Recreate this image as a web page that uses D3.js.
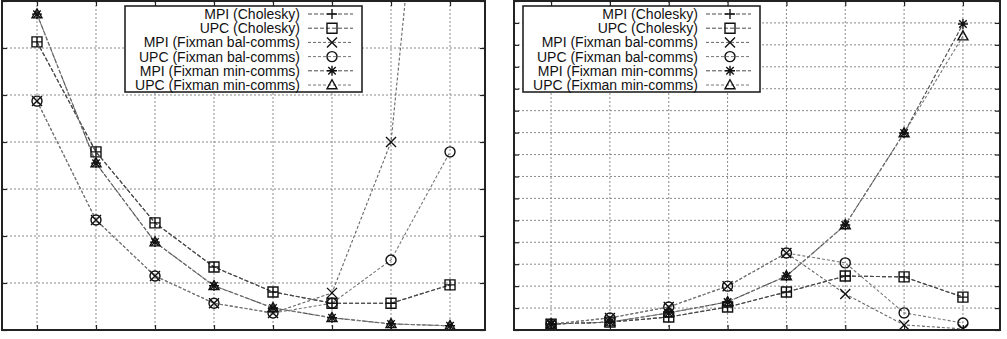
<!DOCTYPE html>
<html>
<head>
<meta charset="utf-8">
<script src="https://cdn.jsdelivr.net/npm/d3@7"></script>
<style>
  html, body { margin: 0; padding: 0; background: #fff; }
  svg { display: block; }
  text { font-family: "Liberation Sans", Arial, Helvetica, sans-serif; }
</style>
</head>
<body>
<svg id="chart" width="1007" height="339"></svg>
<script>
// ---------- data ----------
const categories = ["1", "2", "4", "8", "16", "32", "64", "128"];
const seriesNames = ["MPI (Cholesky)", "UPC (Cholesky)", "MPI (Fixman bal-comms)",
                     "UPC (Fixman bal-comms)", "MPI (Fixman min-comms)", "UPC (Fixman min-comms)"];
const seriesSymbols = ["plus", "square", "cross", "circle", "star", "triangle"];

// left panel
const mpiCholeskyA = [6.13, 3.79, 2.28, 1.34, 0.81, 0.57, 0.57, 0.96];
const upcCholeskyA = [6.13, 3.79, 2.28, 1.34, 0.81, 0.57, 0.57, 0.96];
const mpiBalA      = [4.87, 2.34, 1.15, 0.57, 0.36, 0.79, 4.00, 16.5];
const upcBalA      = [4.87, 2.34, 1.15, 0.57, 0.36, 0.57, 1.49, 3.79];
const mpiMinA      = [6.72, 3.55, 1.87, 0.94, 0.47, 0.26, 0.13, 0.09];
const upcMinA      = [6.72, 3.55, 1.87, 0.94, 0.47, 0.26, 0.13, 0.09];
const yTicksA      = [0, 1, 2, 3, 4, 5, 6, 7];

// right panel
const mpiCholeskyB = [0.27, 0.36, 0.59, 1.05, 1.73, 2.46, 2.42, 1.50];
const upcCholeskyB = [0.27, 0.36, 0.59, 1.05, 1.73, 2.46, 2.42, 1.50];
const mpiBalB      = [0.27, 0.55, 1.05, 2.00, 3.51, 1.64, 0.23, 0.05];
const upcBalB      = [0.27, 0.55, 1.05, 2.00, 3.51, 3.06, 0.78, 0.32];
const mpiMinB      = [0.27, 0.36, 0.78, 1.28, 2.46, 4.79, 8.98, 13.95];
const upcMinB      = [0.27, 0.36, 0.78, 1.28, 2.46, 4.79, 8.98, 13.40];
const yTicksB      = [0, 1, 2, 3, 4, 5, 6, 7, 8, 9, 10, 11, 12, 13, 14, 15];

// ---------- drawing ----------
const svg = d3.select("#chart");

const symbolPath = {
  plus: s => `M${-s},0H${s}M0,${-s}V${s}`,
  cross: s => `M${-s},${-s}L${s},${s}M${-s},${s}L${s},${-s}`,
  star: s => `M${-s},0H${s}M0,${-s}V${s}M${-s*0.75},${-s*0.75}L${s*0.75},${s*0.75}M${-s*0.75},${s*0.75}L${s*0.75},${-s*0.75}`,
  square: s => `M${-s},${-s}H${s}V${s}H${-s}Z`,
  circle: s => `M${s},0A${s},${s} 0 1,1 ${-s},0A${s},${s} 0 1,1 ${s},0Z`,
  triangle: s => `M0,${-s*1.05}L${s},${s*0.75}L${-s},${s*0.75}Z`
};
const symSize = 5;

function drawPanel(id, x0, x1, y0, y1, pad, yMax, yTicks, seriesData, legend) {
  const g = svg.append("g");
  const x = d3.scalePoint().domain(categories).range([x0, x1]).padding(pad);
  const y = d3.scaleLinear().domain([0, yMax]).range([y1, y0]);

  // grid
  const grid = g.append("g").attr("stroke", "#8a8a8a").attr("stroke-width", 1)
    .attr("stroke-dasharray", "2,2");
  grid.selectAll("line.v").data(categories).join("line")
    .attr("x1", d => x(d)).attr("x2", d => x(d))
    .attr("y1", y0).attr("y2", y1);
  grid.selectAll("line.h").data(yTicks.slice(1, -1)).join("line")
    .attr("x1", x0).attr("x2", x1)
    .attr("y1", d => y(d)).attr("y2", d => y(d));

  // axes ticks (inward, no labels)
  const tk = 5;
  const axB = g.append("g").attr("transform", `translate(0,${y1})`)
    .call(d3.axisBottom(x).tickSize(-tk).tickFormat(""));
  const axT = g.append("g").attr("transform", `translate(0,${y0})`)
    .call(d3.axisTop(x).tickSize(-tk).tickFormat(""));
  const axL = g.append("g").attr("transform", `translate(${x0},0)`)
    .call(d3.axisLeft(y).tickValues(yTicks).tickSize(-tk).tickFormat(""));
  const axR = g.append("g").attr("transform", `translate(${x1},0)`)
    .call(d3.axisRight(y).tickValues(yTicks).tickSize(-tk).tickFormat(""));
  [axB, axT, axL, axR].forEach(a => {
    a.select(".domain").remove();
    a.selectAll(".tick line").attr("stroke", "#222").attr("stroke-width", 1.2);
  });

  // clip
  svg.append("defs").append("clipPath").attr("id", "clip" + id)
    .append("rect").attr("x", x0).attr("y", y0).attr("width", x1 - x0).attr("height", y1 - y0);

  const plot = g.append("g").attr("clip-path", `url(#clip${id})`);
  const line = d3.line().x((d, i) => x(categories[i])).y(d => y(d));
  const dashes = ["4,2", "4,2", "3,2", "3,2", "4,2", "3,2"];
  const lineColors = ["#4a4a4a", "#4a4a4a", "#666", "#777", "#4a4a4a", "#777"];
  seriesData.forEach((vals, si) => {
    plot.append("path").datum(vals).attr("d", line)
      .attr("fill", "none").attr("stroke", lineColors[si]).attr("stroke-width", 1.1)
      .attr("stroke-dasharray", dashes[si]);
  });
  seriesData.forEach((vals, si) => {
    plot.selectAll(null).data(vals).join("path")
      .attr("transform", (d, i) => `translate(${x(categories[i])},${y(d)})`)
      .attr("d", symbolPath[seriesSymbols[si]](symSize))
      .attr("fill", "none").attr("stroke", "#111").attr("stroke-width", 1.4);
  });

  // frame
  g.append("rect").attr("x", x0).attr("y", y0).attr("width", x1 - x0).attr("height", y1 - y0)
    .attr("fill", "none").attr("stroke", "#222").attr("stroke-width", 2);

  // legend
  const lg = g.append("g");
  lg.append("rect").attr("x", legend.x).attr("y", legend.y).attr("width", 237).attr("height", 86)
    .attr("fill", "#fff").attr("stroke", "#222").attr("stroke-width", 1.6);
  seriesNames.forEach((name, si) => {
    const ry = legend.y + 8 + si * 14.2;
    lg.append("text").attr("x", legend.x + 175).attr("y", ry).attr("dy", "0.36em")
      .attr("text-anchor", "end").attr("font-size", 14).attr("fill", "#111").text(name);
    lg.append("line").attr("x1", legend.x + 183).attr("x2", legend.x + 228)
      .attr("y1", ry).attr("y2", ry)
      .attr("stroke", lineColors[si]).attr("stroke-width", 1).attr("stroke-dasharray", dashes[si]);
    lg.append("path").attr("transform", `translate(${legend.x + 207},${ry})`)
      .attr("d", symbolPath[seriesSymbols[si]](symSize))
      .attr("fill", "none").attr("stroke", "#111").attr("stroke-width", 1.4);
  });
}

drawPanel("A", 2, 485, 1, 330, 0.593, 7, yTicksA,
  [mpiCholeskyA, upcCholeskyA, mpiBalA, upcBalA, mpiMinA, upcMinA], {x: 125, y: 6});
drawPanel("B", 514, 1000, 1, 330, 0.63, 15, yTicksB,
  [mpiCholeskyB, upcCholeskyB, mpiBalB, upcBalB, mpiMinB, upcMinB], {x: 523, y: 6});
</script>
</body>
</html>
